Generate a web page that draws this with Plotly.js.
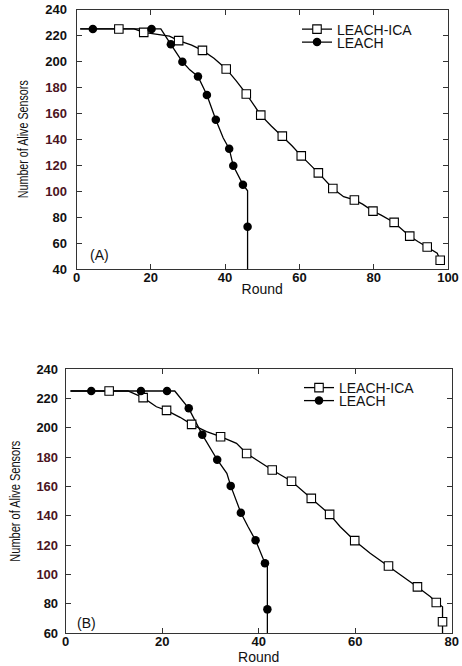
<!DOCTYPE html>
<html>
<head>
<meta charset="utf-8">
<script src="https://cdn.plot.ly/plotly-3.0.1.min.js"></script>
<style>html,body{margin:0;padding:0;background:#fff;}#chart{width:462px;height:666px;}</style>
</head>
<body>
<div id="chart"></div>
<script>
// ---------- Panel (A) ----------
const aIcaCurveX = [1, 11.4, 15.5, 18.1, 22, 25, 27.5, 31, 33.9, 37, 40.3, 43, 45.7, 49.6, 52.5, 55.4, 58, 60.5, 65.1, 69, 71.9, 74.8, 77, 79.8, 82, 85.5, 89.7, 92, 94.4, 97.1, 97.9];
const aIcaCurveY = [225, 225, 225, 222.4, 221, 219.5, 216, 212.5, 208.5, 202.5, 194.2, 185, 174.9, 158.6, 150, 142.4, 135, 127.2, 114.1, 102.1, 95.7, 93.2, 90, 84.6, 81.5, 75.9, 65.3, 61, 56.9, 52.1, 46.8];
const aIcaMarkX = [11.4, 18.1, 27.5, 33.9, 40.3, 45.7, 49.6, 55.4, 60.5, 65.1, 69, 74.8, 79.8, 85.5, 89.7, 94.4, 97.9];
const aIcaMarkY = [225, 222.4, 216, 208.5, 194.2, 174.9, 158.6, 142.4, 127.2, 114.1, 102.1, 93.2, 84.6, 75.9, 65.3, 56.9, 46.8];

const aLeachCurveX = [1, 4.4, 20.2, 22.7, 25.4, 28.5, 30.5, 32.7, 35.1, 37.5, 39.5, 41.1, 42.2, 44.8, 46.05, 46.05];
const aLeachCurveY = [225, 225, 225, 225, 213.2, 199.7, 193.5, 188.4, 174.1, 155.1, 141, 132.7, 119.5, 105, 100.3, 40];
const aLeachMarkX = [4.4, 20.2, 25.4, 28.5, 32.7, 35.1, 37.5, 41.1, 42.2, 44.8, 46.05];
const aLeachMarkY = [225, 225, 213.2, 199.7, 188.4, 174.1, 155.1, 132.7, 119.5, 105, 72.5];

// ---------- Panel (B) ----------
const bIcaCurveX = [1, 9, 12.9, 16.05, 18.8, 20.9, 23.7, 26.1, 29.2, 32.1, 35.4, 37.5, 42.8, 46.8, 50.9, 54.7, 56.9, 59.9, 63.1, 66.9, 70.1, 72.9, 75.6, 76.8, 78.1, 78.1];
const bIcaCurveY = [225, 225, 225, 220.5, 214.3, 211.8, 207.1, 202.3, 197.3, 193.9, 189.4, 182.5, 171.2, 163.6, 151.9, 141, 132.6, 123.1, 114.5, 105.8, 98.5, 91.6, 84.9, 81, 78.1, 60];
const bIcaMarkX = [9, 16.05, 20.9, 26.1, 32.1, 37.5, 42.8, 46.8, 50.9, 54.7, 59.9, 66.9, 72.9, 76.8, 78.1];
const bIcaMarkY = [225, 220.5, 211.8, 202.3, 193.9, 182.5, 171.2, 163.6, 151.9, 141, 123.1, 105.8, 91.6, 81, 67.9];

const bLeachCurveX = [1, 5.3, 15.6, 21, 22.6, 25.5, 27.1, 28.3, 31.4, 33.4, 34.2, 36.3, 37.8, 39.35, 41.3, 41.8, 41.8];
const bLeachCurveY = [225, 225, 225, 225, 225, 213.2, 203, 195.3, 178.2, 169, 160.4, 142.1, 132.6, 123.3, 107.7, 105.4, 60];
const bLeachMarkX = [5.3, 15.6, 21, 25.5, 28.3, 31.4, 34.2, 36.3, 39.35, 41.3, 41.8];
const bLeachMarkY = [225, 225, 225, 213.2, 195.3, 178.2, 160.4, 142.1, 123.3, 107.7, 76.3];

// ---------- Labels / ticks ----------
const seriesNames = ['LEACH-ICA', 'LEACH'];
const panelLabels = ['(A)', '(B)'];
const xTitle = 'Round';
const yTitle = 'Number of Alive Sensors';
const aXTicks = [0, 20, 40, 60, 80, 100];
const aYTicks = [40, 60, 80, 100, 120, 140, 160, 180, 200, 220, 240];
const bXTicks = [0, 20, 40, 60, 80];
const bYTicks = [60, 80, 100, 120, 140, 160, 180, 200, 220, 240];
const tintedTicks = [100, 120, 140, 160, 180];

const W = 462, H = 666;
const FONT = 'Liberation Sans, Arial, sans-serif';

function yTickText(vals) {
  return vals.map(v => tintedTicks.indexOf(v) >= 0 ? '<span style="color:#4b1422">' + v + '</span>' : String(v));
}

const lineStyle = {color: '#000', width: 1.3};
const sqFill = {symbol: 'square', size: 8.5, color: '#fff', line: {width: 1.1, color: '#000'}};
const ci = {symbol: 'circle', size: 8.5, color: '#000', line: {width: 0}};

function panelTraces(xa, ya, icaCX, icaCY, icaMX, icaMY, leCX, leCY, leMX, leMY, lgA, lgB) {
  return [
    {x: icaCX, y: icaCY, xaxis: xa, yaxis: ya, mode: 'lines', line: lineStyle, showlegend: false, hoverinfo: 'skip'},
    {x: leCX, y: leCY, xaxis: xa, yaxis: ya, mode: 'lines', line: lineStyle, showlegend: false, hoverinfo: 'skip'},
    {x: icaMX, y: icaMY, xaxis: xa, yaxis: ya, mode: 'markers', marker: sqFill, showlegend: false, name: seriesNames[0]},
    {x: leMX, y: leMY, xaxis: xa, yaxis: ya, mode: 'markers', marker: ci, showlegend: false, name: seriesNames[1]},
    {x: [null], y: [null], xaxis: xa, yaxis: ya, mode: 'lines+markers', line: lineStyle, marker: sqFill, name: seriesNames[0], legend: lgA},
    {x: [null], y: [null], xaxis: xa, yaxis: ya, mode: 'lines+markers', line: lineStyle, marker: ci, name: seriesNames[1], legend: lgB}
  ];
}

const traces = [].concat(
  panelTraces('x', 'y', aIcaCurveX, aIcaCurveY, aIcaMarkX, aIcaMarkY, aLeachCurveX, aLeachCurveY, aLeachMarkX, aLeachMarkY, 'legend', 'legend2'),
  panelTraces('x2', 'y2', bIcaCurveX, bIcaCurveY, bIcaMarkX, bIcaMarkY, bLeachCurveX, bLeachCurveY, bLeachMarkX, bLeachMarkY, 'legend3', 'legend4')
);

const tickFont = {family: FONT, size: 13, color: '#111', weight: 'bold'};
function xAxis(domain, range, ticks, anchor) {
  return {
    domain: domain, range: range, anchor: anchor, tickmode: 'array', tickvals: ticks,
    ticks: 'inside', ticklen: 5, tickcolor: '#333', mirror: 'ticks', showline: true, linecolor: '#333', linewidth: 1,
    showgrid: false, zeroline: false, tickfont: tickFont, fixedrange: true, ticklabelstandoff: -4,
    title: {text: xTitle, font: {family: FONT, size: 14, color: '#111'}, standoff: 0}
  };
}
function yAxis(domain, range, ticks, anchor, lblOff, titleOff) {
  return {
    domain: domain, range: range, anchor: anchor, tickmode: 'array', tickvals: ticks, ticktext: yTickText(ticks),
    ticks: 'inside', ticklen: 5, tickcolor: '#333', mirror: 'ticks', showline: true, linecolor: '#333', linewidth: 1,
    showgrid: false, zeroline: false, tickfont: tickFont, fixedrange: true, ticklabelstandoff: lblOff,
    title: {text: yTitle, font: {family: FONT, size: 14, color: '#111'}, standoff: titleOff}
  };
}

function leg(xPx, yPx) {
  return {x: xPx / W, y: 1 - yPx / H, xanchor: 'left', yanchor: 'middle', bgcolor: 'rgba(0,0,0,0)', borderwidth: 0,
          font: {family: FONT, size: 14, color: '#111'}};
}

const layout = {
  width: W, height: H,
  margin: {l: 0, r: 0, t: 0, b: 0},
  paper_bgcolor: '#fff', plot_bgcolor: '#fff',
  showlegend: true,
  xaxis: xAxis([76.5 / W, 448 / W], [0, 100], aXTicks, 'y'),
  yaxis: yAxis([1 - 269 / H, 1 - 9.5 / H], [40, 240], aYTicks, 'x', 6, 13),
  xaxis2: xAxis([65.7 / W, 451.7 / W], [0, 80], bXTicks, 'y2'),
  yaxis2: yAxis([1 - 633.3 / H, 1 - 369 / H], [60, 240], bYTicks, 'x2', 4, 12),
  legend: leg(297, 29.5),
  legend2: leg(297, 42.5),
  legend3: leg(299, 388),
  legend4: leg(299, 401),
  annotations: [
    {text: panelLabels[0], x: 6.1, y: 50.8, xref: 'x', yref: 'y', showarrow: false, font: {family: FONT, size: 14, color: '#111'}},
    {text: panelLabels[1], x: 4.4, y: 67.2, xref: 'x2', yref: 'y2', showarrow: false, font: {family: FONT, size: 14, color: '#111'}}
  ]
};

Plotly.newPlot('chart', traces, layout, {displayModeBar: false, staticPlot: true}).then(function () {
  // condensed look of the original y-axis titles
  const lens = {'g-ytitle': 118, 'g-y2title': 121};
  Object.keys(lens).forEach(function (cls) {
    document.querySelectorAll('.' + cls + ' text').forEach(function (t) {
      t.setAttribute('textLength', lens[cls]);
      t.setAttribute('lengthAdjust', 'spacingAndGlyphs');
    });
  });
});
</script>
</body>
</html>
